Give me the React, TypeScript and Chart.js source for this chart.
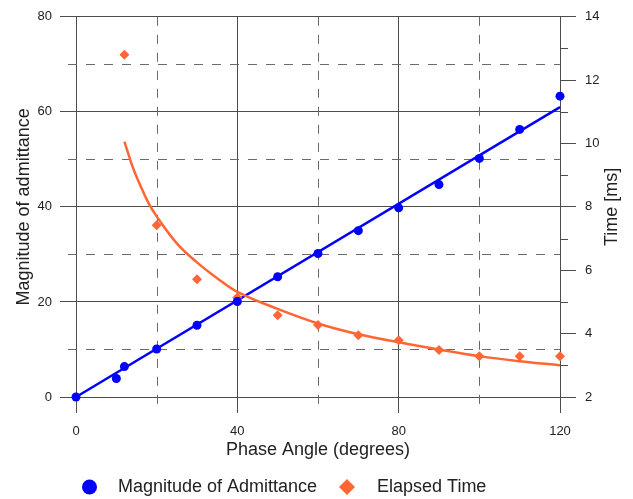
import React, { useEffect, useRef } from 'react';
import { Chart, registerables } from 'chart.js';

Chart.register(...registerables);

// ---- data ----
const admAngles = [0, 10, 12, 20, 30, 40, 50, 60, 70, 80, 90, 100, 110, 120];
const admValues = [0, 3.9, 6.4, 10.1, 15.1, 20.1, 25.3, 30.2, 35.0, 39.8, 44.7, 50.2, 56.3, 63.3];
const admFitAngles = [0, 120];
const admFitValues = [0, 61];
const timeAngles = [12, 20, 30, 40, 50, 60, 70, 80, 90, 100, 110, 120];
const timeValues = [12.8, 7.42, 5.72, 5.14, 4.58, 4.27, 3.95, 3.79, 3.48, 3.29, 3.29, 3.29];
const timeFitAngles = [12, 14, 16, 18, 20, 25, 30, 35, 40, 50, 60, 70, 80, 90, 100, 110, 120];
const timeFitValues = [10.06, 9.28, 8.66, 8.12, 7.7, 6.85, 6.25, 5.75, 5.32, 4.78, 4.32, 3.98, 3.73, 3.5, 3.29, 3.13, 3.0];

const xMinorGrid = [20, 60, 100];
const yMinorGrid = [10, 30, 50, 70];
const y1MinorTicks = [3, 5, 7, 9, 11, 13];

const xTitle = 'Phase Angle (degrees)';
const yTitle = 'Magnitude of admittance';
const y1Title = 'Time [ms]';
const admLabel = 'Magnitude of Admittance';
const timeLabel = 'Elapsed Time';

const BLUE = '#0000ff';
const ORANGE = '#ff6633';
const GRID = '#4d4d4d';
const DASH = '#6a6a6a';
const FONT = '"Liberation Sans", Arial, sans-serif';

const toPts = (xs: number[], ys: number[]) => xs.map((x, i) => ({ x, y: ys[i] }));

const customPlugin = {
  id: 'customDecor',
  beforeDatasetsDraw(chart: any) {
    const { ctx, chartArea: a, scales } = chart;
    const x = scales.x, y = scales.y, y1 = scales.y1;
    ctx.save();
    ctx.lineWidth = 1;
    ctx.strokeStyle = DASH;
    ctx.setLineDash([9, 9]);
    for (const v of xMinorGrid) {
      const px = Math.round(x.getPixelForValue(v)) + 0.5;
      ctx.beginPath();
      ctx.moveTo(px, a.top);
      ctx.lineTo(px, a.bottom + 8);
      ctx.stroke();
    }
    for (const v of yMinorGrid) {
      const py = Math.round(y.getPixelForValue(v)) + 0.5;
      ctx.beginPath();
      ctx.moveTo(a.left - 8, py);
      ctx.lineTo(a.right, py);
      ctx.stroke();
    }
    ctx.setLineDash([]);
    ctx.strokeStyle = GRID;
    for (const v of y1MinorTicks) {
      const py = Math.round(y1.getPixelForValue(v)) + 0.5;
      ctx.beginPath();
      ctx.moveTo(a.right, py);
      ctx.lineTo(a.right + 8, py);
      ctx.stroke();
    }
    ctx.restore();
  },
  afterDraw(chart: any) {
    const { ctx, chartArea: a } = chart;
    ctx.save();
    // right axis title (reads bottom to top)
    ctx.fillStyle = '#222';
    ctx.font = `18px ${FONT}`;
    ctx.textAlign = 'center';
    ctx.textBaseline = 'middle';
    ctx.translate(612, (a.top + a.bottom) / 2);
    ctx.rotate(-Math.PI / 2);
    ctx.fillText(y1Title, 0, 0);
    ctx.restore();

    // legend
    ctx.save();
    const ly = 487;
    ctx.fillStyle = BLUE;
    ctx.beginPath();
    ctx.arc(89.5, ly, 7.5, 0, Math.PI * 2);
    ctx.fill();
    ctx.fillStyle = ORANGE;
    ctx.beginPath();
    ctx.moveTo(347, ly - 8);
    ctx.lineTo(355, ly);
    ctx.lineTo(347, ly + 8);
    ctx.lineTo(339, ly);
    ctx.closePath();
    ctx.fill();
    ctx.fillStyle = '#222';
    ctx.font = `18px ${FONT}`;
    ctx.textAlign = 'left';
    ctx.textBaseline = 'middle';
    ctx.fillText(admLabel, 118, ly);
    ctx.fillText(timeLabel, 377, ly);
    ctx.restore();
  },
};

export default function App() {
  const ref = useRef<HTMLCanvasElement>(null);
  useEffect(() => {
    document.body.style.margin = '0';
    Chart.defaults.font.family = FONT;
    const chart = new Chart(ref.current as HTMLCanvasElement, {
      type: 'scatter',
      data: {
        datasets: [
          {
            label: admLabel,
            data: toPts(admAngles, admValues),
            showLine: false,
            pointStyle: 'circle',
            pointRadius: 4.5,
            backgroundColor: BLUE,
            borderColor: BLUE,
            borderWidth: 0,
            yAxisID: 'y',
            clip: false,
            order: 1,
          },
          {
            label: 'Admittance fit',
            type: 'line',
            data: toPts(admFitAngles, admFitValues),
            borderColor: BLUE,
            borderWidth: 2.5,
            pointRadius: 0,
            fill: false,
            yAxisID: 'y',
            clip: false,
            order: 4,
          },
          {
            label: timeLabel,
            data: toPts(timeAngles, timeValues),
            showLine: false,
            pointStyle: 'rectRot',
            pointRadius: 5,
            backgroundColor: ORANGE,
            borderColor: ORANGE,
            borderWidth: 0,
            yAxisID: 'y1',
            clip: false,
            order: 2,
          },
          {
            label: 'Time fit',
            type: 'line',
            data: toPts(timeFitAngles, timeFitValues),
            borderColor: ORANGE,
            borderWidth: 2.5,
            pointRadius: 0,
            fill: false,
            tension: 0.4,
            yAxisID: 'y1',
            clip: false,
            order: 3,
          },
        ],
      },
      options: {
        animation: false,
        responsive: false,
        devicePixelRatio: 1,
        layout: { padding: { top: 16, left: 0, right: 0, bottom: 0 } },
        plugins: { legend: { display: false }, tooltip: { enabled: false } },
        scales: {
          x: {
            type: 'linear',
            position: 'bottom',
            min: 0,
            max: 120,
            ticks: { stepSize: 40, padding: 11, color: '#222', font: { size: 13 } },
            grid: { color: GRID, lineWidth: 1, tickLength: 16, tickColor: GRID },
            border: { display: false },
            title: {
              display: true,
              text: xTitle,
              color: '#222',
              font: { size: 18 },
              padding: { top: 0, bottom: 38 },
            },
            afterFit: (s: any) => { s.height = 102; },
          },
          y: {
            type: 'linear',
            position: 'left',
            min: 0,
            max: 80,
            ticks: { stepSize: 20, padding: 8, color: '#222', font: { size: 13 } },
            grid: { color: GRID, lineWidth: 1, tickLength: 16, tickColor: GRID },
            border: { display: false },
            title: {
              display: true,
              text: yTitle,
              color: '#222',
              font: { size: 18 },
              padding: { top: 13, bottom: 0 },
            },
            afterFit: (s: any) => { s.width = 76; },
          },
          y1: {
            type: 'linear',
            position: 'right',
            min: 2,
            max: 14,
            ticks: { stepSize: 2, padding: 9, color: '#222', font: { size: 13 } },
            grid: { drawOnChartArea: false, tickLength: 16, tickColor: GRID, lineWidth: 1, color: GRID },
            border: { display: false },
            afterFit: (s: any) => { s.width = 73; },
          },
        },
      },
      plugins: [customPlugin],
    } as any);
    return () => chart.destroy();
  }, []);
  return (
    <div style={{ width: 633, height: 499 }}>
      <canvas ref={ref} width={633} height={499} style={{ display: 'block' }} />
    </div>
  );
}
